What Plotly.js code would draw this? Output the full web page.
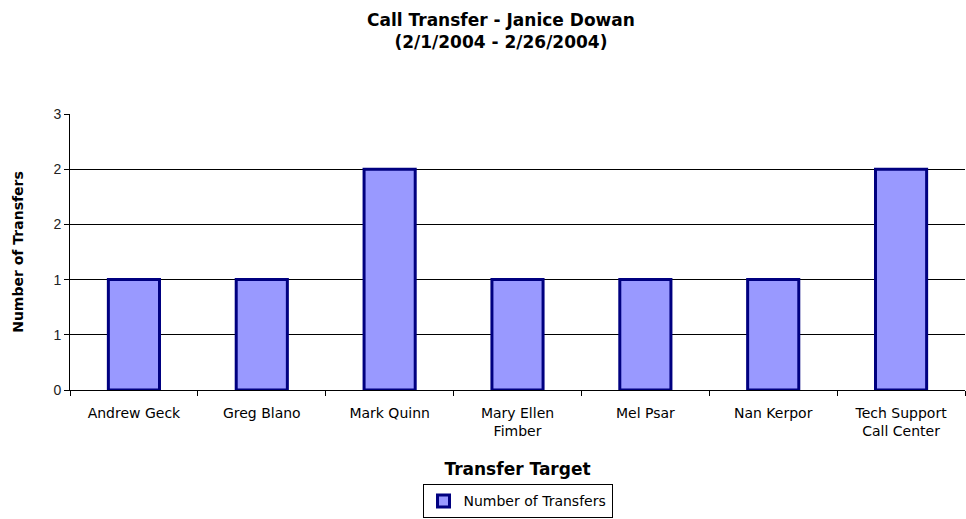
<!DOCTYPE html>
<html>
<head>
<meta charset="utf-8">
<script src="https://cdn.plot.ly/plotly-3.0.1.min.js"></script>
<style>html,body{margin:0;padding:0;background:#fff;}#chart{width:966px;height:519px;}</style>
</head>
<body>
<div id="chart"></div>
<script>
var categories = ["Andrew Geck", "Greg Blano", "Mark Quinn", "Mary Ellen Fimber", "Mel Psar", "Nan Kerpor", "Tech Support Call Center"];
var categoryLabels = ["Andrew Geck", "Greg Blano", "Mark Quinn", "Mary Ellen<br>Fimber", "Mel Psar", "Nan Kerpor", "Tech Support<br>Call Center"];
var transfers = [1, 1, 2, 1, 1, 1, 2];
var yTickValues = [0, 0.5, 1, 1.5, 2, 2.5];
var yTickLabels = ["0", "1", "1", "2", "2", "3"];
var chartTitle = "<b>Call Transfer - Janice Dowan<br>(2/1/2004 - 2/26/2004)</b>";

var font = "DejaVu Sans, Verdana, sans-serif";
var trace = {
  type: "bar",
  x: categories,
  y: transfers,
  name: "Number of Transfers",
  width: 0.4,
  marker: {color: "#9999FF", line: {color: "#000080", width: 3}},
  showlegend: true
};
var layout = {
  width: 966, height: 519,
  margin: {l: 70, r: 1, t: 114, b: 129},
  paper_bgcolor: "#fff", plot_bgcolor: "#fff",
  font: {family: font, size: 12, color: "#000"},
  annotations: [{
    text: chartTitle, xref: "paper", yref: "paper",
    x: 0.482, y: 1.384, xanchor: "center", yanchor: "top",
    showarrow: false, align: "center",
    font: {family: font, size: 17, color: "#000"}
  }],
  xaxis: {
    type: "category", automargin: false,
    tickmode: "array", tickvals: categories, ticktext: categoryLabels,
    tickson: "boundaries", ticks: "outside", ticklen: 5, tickcolor: "#000",
    ticklabelstandoff: 10,
    showline: true, linecolor: "#000", linewidth: 1,
    showgrid: false, zeroline: false,
    tickfont: {family: font, size: 14, color: "#000"},
    title: {text: "<b>Transfer Target</b>", font: {family: font, size: 17, color: "#000"}, standoff: 25}
  },
  yaxis: {
    range: [0, 2.5], automargin: false,
    tickmode: "array", tickvals: yTickValues, ticktext: yTickLabels,
    ticks: "outside", ticklen: 5, tickcolor: "#000",
    showline: true, linecolor: "#000", linewidth: 1,
    showgrid: true, gridcolor: "#000", gridwidth: 1,
    zeroline: false,
    tickfont: {family: "Liberation Sans, Arial, sans-serif", size: 14, color: "#222"},
    title: {text: "<b>Number of Transfers</b>", font: {family: font, size: 14, color: "#000"}, standoff: 26}
  },
  legend: {
    orientation: "h", x: 0.5, xanchor: "center", y: -0.342, yanchor: "top",
    bordercolor: "#000", borderwidth: 1, bgcolor: "#fff",
    font: {family: font, size: 14, color: "#000"},
    itemwidth: 30
  },
  bargap: 0.6
};
Plotly.newPlot("chart", [trace], layout, {displayModeBar: false, staticPlot: true});
</script>
</body>
</html>
